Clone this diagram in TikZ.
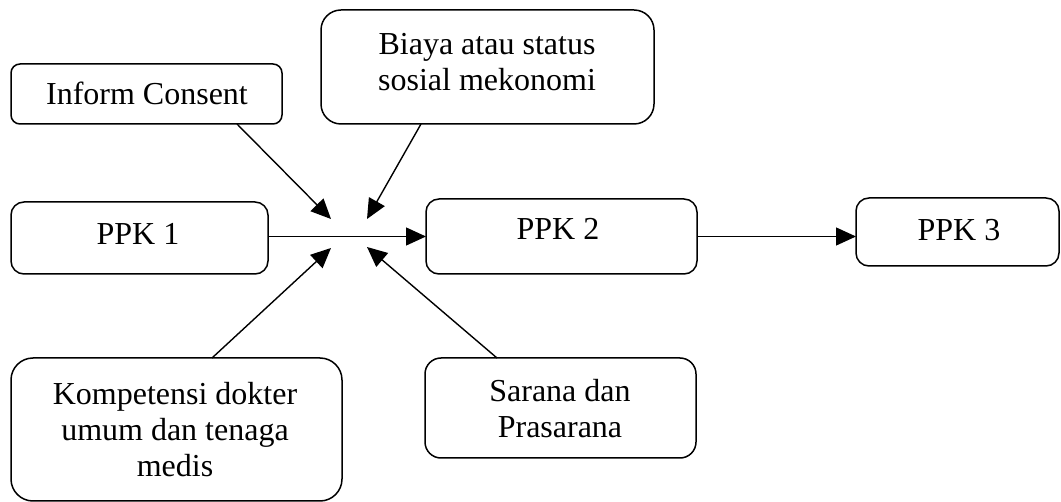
\documentclass[tikz,border=0pt]{standalone}
\usepackage{fontspec}
\setmainfont{Liberation Serif}
\usetikzlibrary{arrows.meta,calc}
\begin{document}
\begin{tikzpicture}[x=1pt,y=-1pt,
  box/.style={draw,line width=1.5pt,inner sep=0pt,outer sep=0pt},
  txt/.style={anchor=base,align=center,inner sep=0pt,font=\fontsize{32}{36}\selectfont},
  arr/.style={line width=1.4pt,-{Triangle[length=20pt,width=18pt]}}]
\useasboundingbox (0,0) rectangle (1061,502);
% boxes
\node[box,rounded corners=9pt,minimum width=271pt,minimum height=60pt] (inform) at (146.5,94) {};
\node[box,rounded corners=20pt,minimum width=333pt,minimum height=114pt] (biaya) at (487.5,67) {};
\node[box,rounded corners=13pt,minimum width=257pt,minimum height=72pt] (ppk1) at (139.5,238) {};
\node[box,rounded corners=13pt,minimum width=271pt,minimum height=75pt] (ppk2) at (561.5,236.5) {};
\node[box,rounded corners=13pt,minimum width=203pt,minimum height=68pt] (ppk3) at (957.5,232) {};
\node[box,rounded corners=22pt,minimum width=331pt,minimum height=143pt] (komp) at (176.5,429.5) {};
\node[box,rounded corners=16pt,minimum width=271pt,minimum height=100pt] (sarana) at (560.5,408) {};
% texts (base anchor = baseline of the last line)
\node[txt] (tinform) at (147,105) {Inform Consent};
\node[txt] (tbiaya) at (487,91) {Biaya atau status\\sosial mekonomi};
\node[txt] (tppk1) at (138,245) {PPK 1};
\node[txt] (tppk2) at (558,240) {PPK 2};
\node[txt] (tppk3) at (959,241) {PPK 3};
\node[txt] (tkomp) at (175,477) {Kompetensi dokter\\umum dan tenaga\\medis};
\node[txt] (tsarana) at (560,438) {Sarana dan\\Prasarana};
% arrow tips
\coordinate (c1) at (331,219);
\coordinate (c2) at (367,219);
\coordinate (c3) at (331,248);
\coordinate (c4) at (367,247);
% connectors
\draw[arr] ([xshift=90.5pt]inform.south) -- (c1);
\draw[arr] ([xshift=-66.5pt]biaya.south) -- (c2);
\draw[arr] ([xshift=35.5pt]komp.north) -- (c3);
\draw[arr] ([xshift=-63.5pt]sarana.north) -- (c4);
\draw[arr] (ppk1.east |- ppk2.west) -- (ppk2.west);
\draw[arr] (ppk2.east) -- (ppk2.east -| ppk3.west);
\end{tikzpicture}
\end{document}
